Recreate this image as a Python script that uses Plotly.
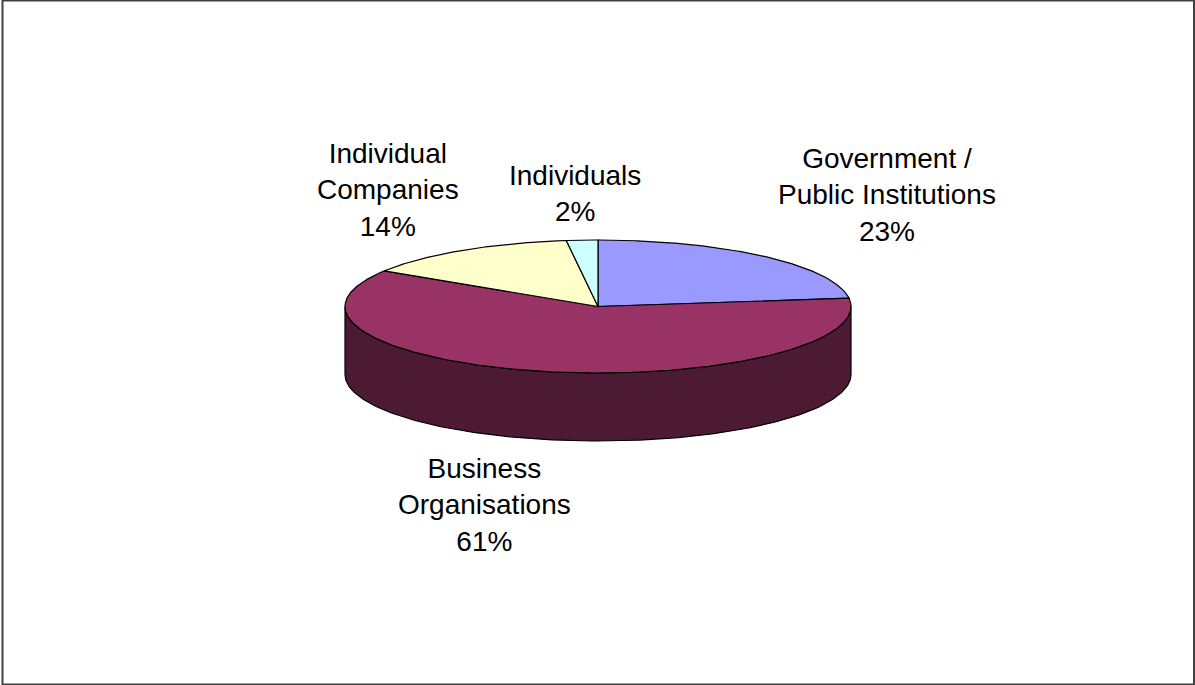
import numpy as np
import plotly.graph_objects as go

# ---- data ----
categories = ["Government /<br>Public Institutions", "Business<br>Organisations",
              "Individual<br>Companies", "Individuals"]
shares = [23, 61, 14, 2]
top_colors = ["#9999FF", "#993366", "#FFFFCC", "#CCFFFF"]
side_colors = ["#4D4D80", "#4C1A33", "#808066", "#668080"]
label_pos = [(887, 195), (484, 505), (388, 190), (575, 193)]

# ---- geometry of the 3D pie (pixel space) ----
W, H = 1195, 685
cx, cy, rx, ry, depth = 598, 306.5, 253, 66.5, 68

def pt(theta_deg, dy=0.0):
    t = np.radians(theta_deg)
    return cx + rx * np.sin(t), cy - ry * np.cos(t) + dy

total = float(sum(shares))
bounds = np.concatenate([[0], np.cumsum(shares) / total * 360.0])

fig = go.Figure()

# side walls (visible front half: 90..270 deg clockwise from top)
for i in range(len(shares)):
    a0, a1 = max(bounds[i], 90), min(bounds[i + 1], 270)
    if a1 <= a0:
        continue
    th = np.linspace(a0, a1, 200)
    xs_top, ys_top = pt(th)
    xs_bot, ys_bot = pt(th[::-1], depth)
    xs = np.concatenate([xs_top, xs_bot, [xs_top[0]]])
    ys = np.concatenate([ys_top, ys_bot, [ys_top[0]]])
    fig.add_trace(go.Scatter(x=xs, y=ys, mode="lines", fill="toself",
                             fillcolor=side_colors[i],
                             line=dict(color="black", width=1.2),
                             hoverinfo="skip", showlegend=False))

# top faces
for i in range(len(shares)):
    th = np.linspace(bounds[i], bounds[i + 1], 300)
    ex, ey = pt(th)
    xs = np.concatenate([[cx], ex, [cx]])
    ys = np.concatenate([[cy], ey, [cy]])
    fig.add_trace(go.Scatter(x=xs, y=ys, mode="lines", fill="toself",
                             fillcolor=top_colors[i],
                             line=dict(color="black", width=1.2),
                             hoverinfo="skip", showlegend=False))

annotations = []
for i, (lab, v) in enumerate(zip(categories, shares)):
    pct = round(v / total * 100)
    annotations.append(dict(x=label_pos[i][0], y=label_pos[i][1], xref="x", yref="y",
                            text=f"{lab}<br>{pct}%", showarrow=False,
                            xanchor="center", yanchor="middle", align="center",
                            font=dict(family="Liberation Sans, Arial", size=28, color="black")))

fig.update_layout(
    width=W, height=H,
    margin=dict(l=0, r=0, t=0, b=0),
    paper_bgcolor="white", plot_bgcolor="white",
    xaxis=dict(range=[0, W], visible=False, fixedrange=True),
    yaxis=dict(range=[H, 0], visible=False, fixedrange=True),
    annotations=annotations,
    shapes=[dict(type="rect", xref="x", yref="y", x0=2.5, y0=0.5, x1=1194, y1=684.5,
                 line=dict(color="#404040", width=2), fillcolor="rgba(0,0,0,0)")],
)

fig.write_html("out.html")
